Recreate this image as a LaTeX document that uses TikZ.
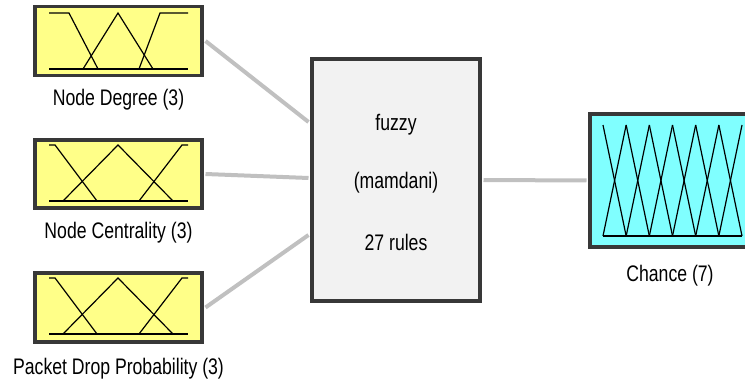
\documentclass[tikz,border=0pt]{standalone}
\usepackage{fontspec}
\setmainfont{Liberation Sans}
\usepackage{graphicx}
\definecolor{mfyellow}{RGB}{255,255,136}
\definecolor{mfcyan}{RGB}{128,255,255}
\definecolor{fisgray}{RGB}{242,242,242}
\definecolor{rim}{RGB}{56,56,56}
\definecolor{wire}{RGB}{192,192,192}
\newcommand{\lbl}[1]{\fontsize{18}{20}\selectfont\scalebox{0.98}[1.25]{#1}}

\begin{document}
\begin{tikzpicture}[x=1pt,y=-1pt]
\tikzset{varbox/.style = {shape=rectangle,draw=rim,line width=3.5pt,minimum width=167pt,minimum height=69pt,fill=mfyellow}}
\tikzset{mf/.style = {black,line width=1.2pt}}
\tikzset{wireline/.style = {draw=wire,line width=4pt}}

\clip (0,0) rectangle (745,385);
\useasboundingbox (0,0) rectangle (745,385);

\node[varbox] (deg) at (118.5,41) {};
\node[varbox,minimum height=68pt] (cent) at (118.5,174) {};
\node[varbox] (drop) at (118.5,307.5) {};
\node[varbox,fill=fisgray,minimum width=168pt,minimum height=242pt] (fis) at (396,180) {};
\node[varbox,fill=mfcyan,minimum width=165pt,minimum height=133pt] (chance) at (672.5,180.5) {};

% membership functions
\draw[mf] (49,69) -- (188,69);
\draw[mf] (49,13) -- (69,13) -- (98,69);
\draw[mf] (83,69) -- (118,13) -- (153,69);
\draw[mf] (139,69) -- (160,13) -- (188,13);
\foreach \t/\b in {145/201,278/334}{
  \draw[mf] (49,\b) -- (188,\b);
  \draw[mf] (49,\t) -- (55,\t) -- (97,\b);
  \draw[mf] (63,\b) -- (118,\t) -- (173,\b);
  \draw[mf] (139,\b) -- (182,\t) -- (188,\t);
}
\draw[mf] (603,236) -- (742,236);
\foreach \i in {0,...,5}{
  \draw[mf] (603+23.17*\i,125) -- (603+23.17*\i+23.17,236);
  \draw[mf] (603+23.17*\i,236) -- (603+23.17*\i+23.17,125);
}

% labels
\node (degl) at (118.5,100) {\lbl{Node Degree (3)}};
\node (centl) at (118.5,233) {\lbl{Node Centrality (3)}};
\node (dropl) at (118.5,369) {\lbl{Packet Drop Probability (3)}};
\node (fisa) at (396,125) {\lbl{fuzzy}};
\node (fisb) at (396,183) {\lbl{(mamdani)}};
\node (fisc) at (396,242) {\lbl{27 rules}};
\node (chancel) at (670,276) {\lbl{Chance (7)}};

%edges
\draw[wireline] ([xshift=1.75pt]deg.east) -- ([yshift=58pt,xshift=-1.75pt]fis.west);
\draw[wireline] ([xshift=1.75pt]cent.east) -- ([yshift=2pt,xshift=-1.75pt]fis.west);
\draw[wireline] ([xshift=1.75pt]drop.east) -- ([yshift=-55pt,xshift=-1.75pt]fis.west);
\draw[wireline] ([xshift=1.75pt]fis.east) -- ([xshift=-1.75pt]chance.west);

\end{tikzpicture}
\end{document}
